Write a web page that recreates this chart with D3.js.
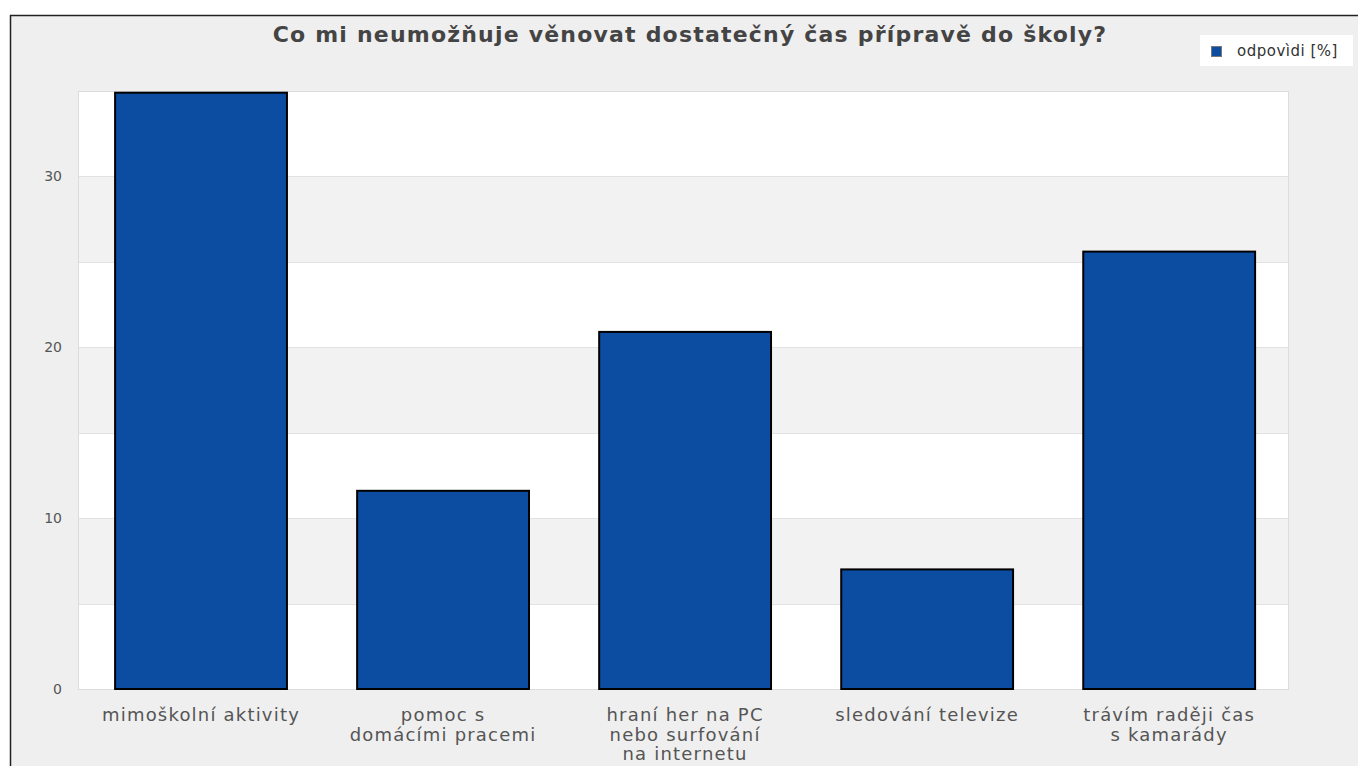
<!DOCTYPE html>
<html><head><meta charset="utf-8">
<script src="https://cdn.jsdelivr.net/npm/d3@7"></script>
<style>
html,body{margin:0;padding:0;background:#fff;}
svg{display:block;}
text{font-family:"DejaVu Sans",sans-serif;}
</style></head>
<body>
<svg id="c" width="1358" height="766"></svg>
<script>
const title = "Co mi neumožňuje věnovat dostatečný čas přípravě do školy?";
const categories = [
  ["mimoškolní aktivity"],
  ["pomoc s", "domácími pracemi"],
  ["hraní her na PC", "nebo surfování", "na internetu"],
  ["sledování televize"],
  ["trávím raději čas", "s kamarády"]
];
const values = [34.9, 11.6, 20.9, 7.0, 25.6];
const seriesName = "odpovìdi [%]";
const yTicks = [0, 10, 20, 30];
const bandTicks = [0, 5, 10, 15, 20, 25, 30, 35];

const svg = d3.select("#c");
// outer frame
svg.append("rect").attr("x", 10.5).attr("y", 15.5).attr("width", 1400).attr("height", 800)
  .attr("fill", "#efefef").attr("stroke", "#222").attr("stroke-width", 1.5);

const L = 78, R = 1288, T = 91, B = 689;
const x = d3.scaleBand().domain(d3.range(categories.length)).range([L, R])
  .paddingInner(0.29).paddingOuter(0.1446).align(0.53);
const y = d3.scaleLinear().domain([0, 35]).range([B, T]);

// plot background bands
const g = svg.append("g");
for (let i = 0; i < bandTicks.length - 1; i++) {
  g.append("rect").attr("x", L).attr("width", R - L)
    .attr("y", y(bandTicks[i + 1])).attr("height", y(bandTicks[i]) - y(bandTicks[i + 1]))
    .attr("fill", i % 2 === 0 ? "#ffffff" : "#f2f2f2");
}
// grid lines
g.selectAll("line.grid").data(bandTicks).join("line")
  .attr("x1", L).attr("x2", R).attr("y1", d => Math.round(y(d)) + 0.5).attr("y2", d => Math.round(y(d)) + 0.5)
  .attr("stroke", "#e2e2e2").attr("stroke-width", 1);
g.append("rect").attr("x", L + 0.5).attr("y", T + 0.5).attr("width", R - L).attr("height", B - T)
  .attr("fill", "none").attr("stroke", "#dcdcdc").attr("stroke-width", 1);

// bars
g.selectAll("rect.bar").data(values).join("rect").attr("class", "bar")
  .attr("x", (d, i) => x(i)).attr("width", x.bandwidth())
  .attr("y", d => y(d)).attr("height", d => B - y(d))
  .attr("fill", "#0c4da2").attr("stroke", "#000").attr("stroke-width", 2);

// y axis
const ya = svg.append("g").attr("transform", `translate(${L},0)`)
  .call(d3.axisLeft(y).tickValues(yTicks).tickSize(0).tickPadding(16).tickFormat(d3.format("d")));
ya.select(".domain").remove();
ya.selectAll("text").attr("font-size", 14).attr("fill", "#555").attr("font-family", "DejaVu Sans");

// x labels
const xl = svg.append("g");
categories.forEach((lines, i) => {
  const cx = x(i) + x.bandwidth() / 2;
  const t = xl.append("text").attr("x", cx).attr("y", 721)
    .attr("text-anchor", "middle").attr("font-size", 18).attr("fill", "#555").attr("letter-spacing", 1.2);
  lines.forEach((ln, j) => t.append("tspan").attr("x", cx).attr("dy", j === 0 ? 0 : 19.5).text(ln));
});

// title
svg.append("text").attr("x", 690).attr("y", 42).attr("text-anchor", "middle")
  .attr("font-size", 22).attr("font-weight", "bold").attr("fill", "#444").attr("letter-spacing", 1.2).text(title);

// legend
const lg = svg.append("g");
lg.append("rect").attr("x", 1200).attr("y", 35).attr("width", 153).attr("height", 31).attr("fill", "#fff");
lg.append("rect").attr("x", 1211.5).attr("y", 46.5).attr("width", 10).attr("height", 10)
  .attr("fill", "#0c4da2").attr("stroke", "#777").attr("stroke-width", 1);
lg.append("text").attr("x", 1237).attr("y", 56).attr("font-size", 15).attr("fill", "#333").attr("letter-spacing", 0.5).text(seriesName);
</script>
</body></html>
